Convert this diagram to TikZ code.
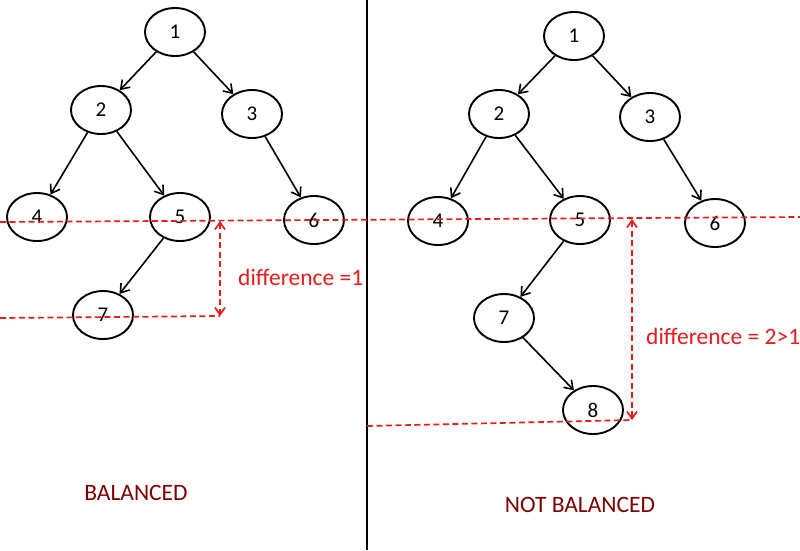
\documentclass[tikz,border=0pt]{standalone}
\usepackage{fontspec}
\setmainfont{Carlito}
\usepackage{tikz}
\usepackage{xcolor}
\usetikzlibrary{arrows.meta,shapes.geometric}

\definecolor{diffred}{RGB}{232,28,28}
\definecolor{tagred}{RGB}{128,0,0}

\begin{document}
\begin{tikzpicture}[x=1pt,y=-1pt,>={Straight Barb[length=8pt,width=11pt]},
  vertex/.style={draw, ellipse, line width=1.9pt, minimum width=60pt, minimum height=48pt, inner sep=0pt, font=\fontsize{21}{21}\selectfont},
  level/.style={draw=diffred, line width=1.7pt, dash pattern=on 6pt off 3.5pt},
  gap/.style={level, <->, >={Straight Barb[length=7pt,width=10pt]}},
  note/.style={text=diffred, font=\fontsize{23.5}{23.5}\selectfont, anchor=west, inner sep=0pt},
  tag/.style={text=tagred, font=\fontsize{23.5}{23.5}\selectfont, inner sep=0pt}]
  \useasboundingbox (0,0) rectangle (800,550);

  % balanced tree
  \node[vertex] (lt1) at (175,32) {1};
  \node[vertex] (lt2) at (101,110) {2};
  \node[vertex] (lt3) at (252,114) {3};
  \node[vertex] (lt4) at (37,217) {4};
  \node[vertex] (lt5) at (180,217) {5};
  \node[vertex] (lt6) at (314,220) {6};
  \node[vertex] (lt7) at (103,315) {7};
  \foreach \a/\b in {lt1/lt2, lt1/lt3, lt2/lt4, lt2/lt5, lt3/lt6, lt5/lt7}
    \draw[->, line width=1.6pt] (\a) -- (\b);

  % not balanced tree
  \node[vertex] (rt1) at (574,36) {1};
  \node[vertex] (rt2) at (499,114) {2};
  \node[vertex] (rt3) at (650,117) {3};
  \node[vertex] (rt4) at (438,221) {4};
  \node[vertex] (rt5) at (580,220) {5};
  \node[vertex] (rt6) at (715,223) {6};
  \node[vertex] (rt7) at (504,318) {7};
  \node[vertex] (rt8) at (593,410) {8};
  \foreach \a/\b in {rt1/rt2, rt1/rt3, rt2/rt4, rt2/rt5, rt3/rt6, rt5/rt7, rt7/rt8}
    \draw[->, line width=1.6pt] (\a) -- (\b);

  % divider
  \draw[line width=1.8pt] (367,0) -- (367,550);

  % height levels
  \coordinate (topL) at (0,222);
  \coordinate (topR) at (800,217);
  \coordinate (lowL) at (0,318);
  \coordinate (lowLend) at (220,316);
  \coordinate (lowR) at (367,426);
  \coordinate (lowRend) at (632,420);
  \coordinate (gapLtop) at (220,221);
  \coordinate (gapRtop) at (632,219);
  \draw[level] (topL) -- (topR);
  \draw[level] (lowL) -- (lowLend);
  \draw[level] (lowR) -- (lowRend);
  \draw[gap] (gapLtop) -- (lowLend);
  \draw[gap] (gapRtop) -- (lowRend);

  \node[note] (diffL) at (238,277) {difference =1};
  \node[note] (diffR) at (646,336) {difference = 2>1};

  \node[tag] (balL) at (136,493) {BALANCED};
  \node[tag] (balR) at (580,505) {NOT BALANCED};
\end{tikzpicture}
\end{document}
